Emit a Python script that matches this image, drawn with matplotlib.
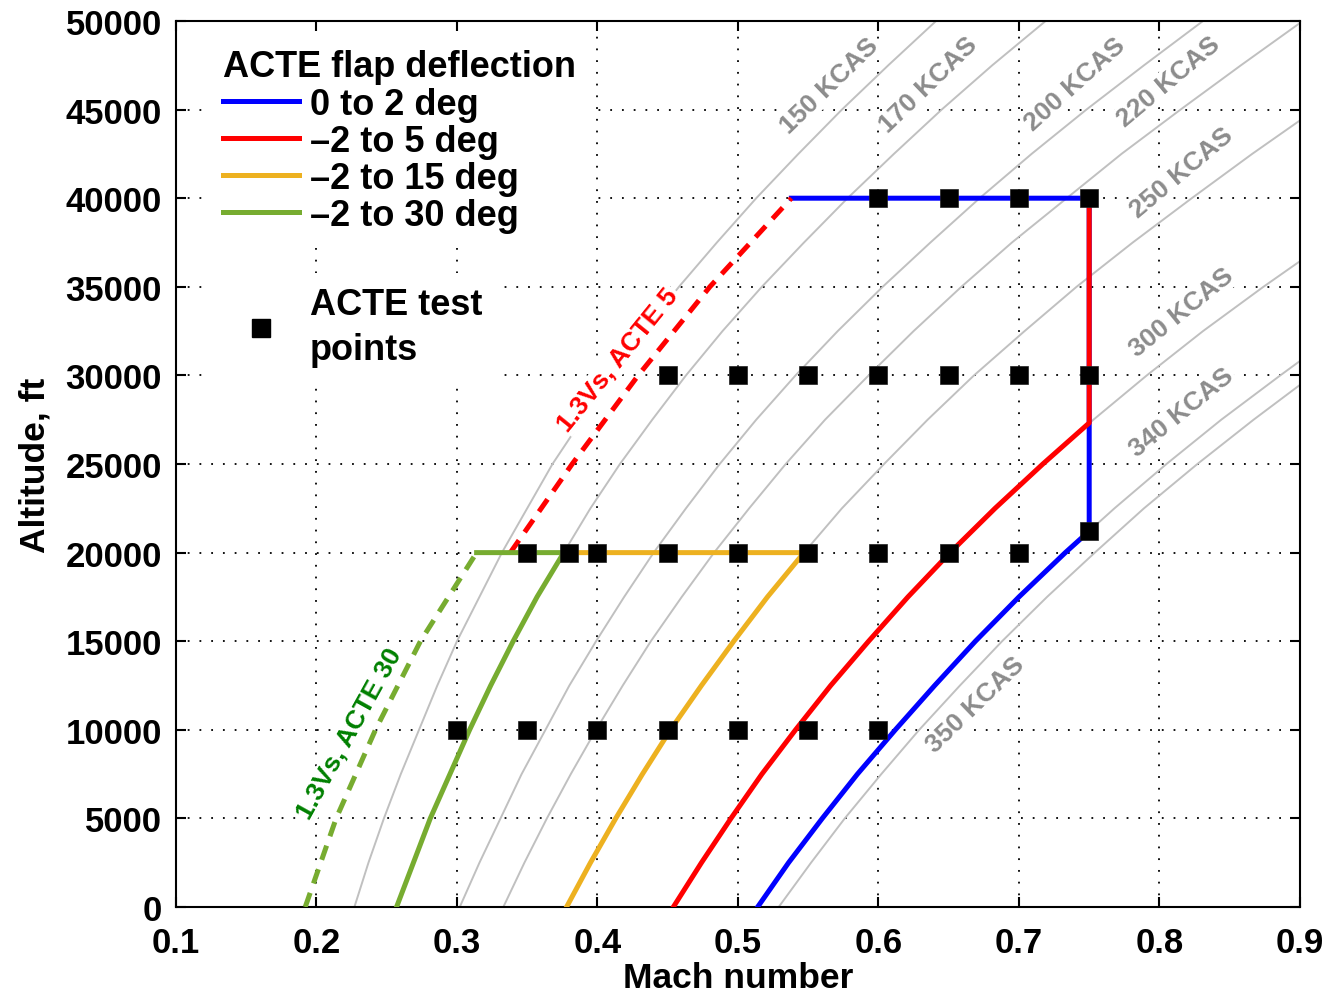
import numpy as np
import matplotlib.pyplot as plt
from matplotlib.lines import Line2D

plt.rcParams['font.family'] = ['Liberation Sans', 'DejaVu Sans']
plt.rcParams['font.weight'] = 'bold'
plt.rcParams['axes.labelweight'] = 'bold'

# altitude grid (ft) for the constant-KCAS lines
alt = [0, 2500, 5000, 7500, 10000, 12500, 15000, 17500, 20000, 22500, 25000,
       27500, 30000, 32500, 35000, 37500, 40000, 42500, 45000, 47500, 50000]

# Mach number along each constant calibrated airspeed line
m150 = [0.227, 0.237, 0.248, 0.260, 0.273, 0.286, 0.300, 0.316, 0.332, 0.350, 0.368,
        0.389, 0.410, 0.433, 0.458, 0.485, 0.513, 0.543, 0.574, 0.607, 0.641]
m170 = [0.257, 0.269, 0.281, 0.295, 0.309, 0.324, 0.340, 0.357, 0.376, 0.395, 0.416,
        0.439, 0.463, 0.489, 0.517, 0.547, 0.578, 0.611, 0.645, 0.681, 0.719]
m200 = [0.302, 0.316, 0.331, 0.346, 0.363, 0.380, 0.399, 0.419, 0.440, 0.463, 0.487,
        0.513, 0.541, 0.571, 0.603, 0.637, 0.672, 0.709, 0.748, 0.789, 0.831]
m220 = [0.333, 0.348, 0.364, 0.381, 0.399, 0.418, 0.438, 0.460, 0.483, 0.508, 0.534,
        0.562, 0.593, 0.625, 0.659, 0.695, 0.734, 0.773, 0.815, 0.858, 0.902]
m250 = [0.378, 0.395, 0.413, 0.432, 0.452, 0.474, 0.497, 0.521, 0.547, 0.574, 0.604,
        0.635, 0.668, 0.704, 0.741, 0.781, 0.823, 0.866, 0.911, 0.958, 1.006]
m300 = [0.454, 0.474, 0.495, 0.517, 0.541, 0.566, 0.593, 0.621, 0.651, 0.683, 0.717,
        0.753, 0.791, 0.831, 0.874, 0.919, 0.965, 1.014, 1.063, 1.115, 1.167]
m340 = [0.514, 0.536, 0.560, 0.585, 0.612, 0.640, 0.669, 0.700, 0.733, 0.768, 0.805,
        0.844, 0.886, 0.929, 0.975, 1.024, 1.074, 1.125, 1.178, 1.232, 1.288]
m350 = [0.529, 0.552, 0.576, 0.602, 0.629, 0.658, 0.688, 0.720, 0.754, 0.789, 0.827,
        0.867, 0.909, 0.953, 1.000, 1.049, 1.100, 1.152, 1.206, 1.261, 1.317]

kcas = [150, 170, 200, 220, 250, 300, 340, 350]
kcas_mach = [m150, m170, m200, m220, m250, m300, m340, m350]

# 1.3 Vs boundaries
vs30_mach = [0.192, 0.214, 0.242, 0.274, 0.314]
vs30_alt = [0, 5000, 10000, 15000, 20000]
vs5_mach = [0.338, 0.382, 0.429, 0.480, 0.538]
vs5_alt = [20000, 25000, 30000, 35000, 40000]

# envelope corners
mmo = 0.75
alt_mmo_340 = 21214
alt_mmo_300 = 27318
alt_top = 40000
alt_low = 20000

# ACTE test points
tp_mach = [0.60, 0.65, 0.70, 0.75,
           0.45, 0.50, 0.55, 0.60, 0.65, 0.70, 0.75,
           0.75,
           0.35, 0.38, 0.40, 0.45, 0.50, 0.55, 0.60, 0.65, 0.70,
           0.30, 0.35, 0.40, 0.45, 0.50, 0.55, 0.60]
tp_alt = [40000] * 4 + [30000] * 7 + [21214] + [20000] * 9 + [10000] * 7

fig = plt.figure(figsize=(13.3, 9.95), dpi=100)
ax = fig.add_axes([0.1323, 0.0874, 0.8451, 0.8905])

blue, red, orange, green = '#0000FF', '#FF0000', '#EDB120', '#77AC30'
n20 = alt.index(20000) + 1
n25 = alt.index(25000) + 1

# constant KCAS lines
for m in kcas_mach:
    ax.plot(m, alt, color='#c0c0c0', lw=1.4, zorder=2)

# 0 to 2 deg envelope
ax.plot(m340[:n20] + [mmo, mmo, vs5_mach[-1]],
        alt[:n20] + [alt_mmo_340, alt_top, alt_top], color=blue, lw=3.6, zorder=4)
# -2 to 5 deg envelope
ax.plot(m300[:n25] + [mmo, mmo], alt[:n25] + [alt_mmo_300, alt_top],
        color=red, lw=3.6, zorder=4)
ax.plot(vs5_mach, vs5_alt, color=red, lw=3.6, ls=(0, (3, 2)), zorder=4)
# -2 to 15 deg envelope
ax.plot(m250[:n20] + [m170[n20 - 1]], alt[:n20] + [alt_low],
        color=orange, lw=3.6, zorder=4)
# -2 to 30 deg envelope
ax.plot(m170[:n20] + [vs30_mach[-1]], alt[:n20] + [alt_low],
        color=green, lw=3.6, zorder=4)
ax.plot(vs30_mach, vs30_alt, color=green, lw=3.6, ls=(0, (3, 2)), zorder=4)

ax.plot(tp_mach, tp_alt, ls='none', marker='s', ms=13.5, color='k',
        mec='#202020', mew=0.5, zorder=5)

# line labels
lab_pos = [(0.5648, 46385, 44), (0.6359, 46440, 44), (0.7399, 46440, 42),
           (0.8068, 46610, 40), (0.8160, 41475, 40), (0.8160, 33575, 39),
           (0.8160, 27930, 39), (0.6694, 11455, 44)]
box = dict(facecolor='white', edgecolor='none', pad=1)
for k, (x, y, r) in zip(kcas, lab_pos):
    ax.text(x, y, '%d KCAS' % k, color='#8c8c8c', fontsize=19, rotation=r,
            rotation_mode='anchor', ha='center', va='center', bbox=box, zorder=3)
ax.text(0.4146, 30924, '1.3Vs, ACTE 5', color=red, fontsize=19, rotation=51,
        rotation_mode='anchor', ha='center', va='center', bbox=box, zorder=3)
ax.text(0.2238, 9818, '1.3Vs, ACTE 30', color='#008000', fontsize=19, rotation=61,
        rotation_mode='anchor', ha='center', va='center', bbox=box, zorder=3)

ax.set_xlim(0.1, 0.9)
ax.set_ylim(0, 50000)
ax.set_xticks(np.arange(0.1, 0.91, 0.1))
ax.set_xticklabels(['0.1', '0.2', '0.3', '0.4', '0.5', '0.6', '0.7', '0.8', '0.9'])
ax.set_yticks(np.arange(0, 50001, 5000))
ax.set_axisbelow(True)
ax.grid(True, color='k', lw=1.3, ls=(0, (1, 5.5)))
ax.tick_params(direction='in', length=7, width=1.5, top=True, right=True,
               labelsize=25)
ax.tick_params(axis='x', pad=14)
ax.tick_params(axis='y', pad=10)
for s in ax.spines.values():
    s.set_linewidth(1.5)

ax.set_xlabel('Mach number', fontsize=25.5, fontweight='bold')
ax.set_ylabel('Altitude, ft', fontsize=25.5, fontweight='bold')
ax.xaxis.set_label_coords(0.5, -0.061)
ax.yaxis.set_label_coords(-0.111, 0.5)

# legends
handles = [Line2D([], [], color=c, lw=3.6) for c in (blue, red, orange, green)]
labels = ['0 to 2 deg', '\u20132 to 5 deg', '\u20132 to 15 deg', '\u20132 to 30 deg']
leg1 = ax.legend(handles, labels, title='ACTE flap deflection', loc='upper left',
                 bbox_to_anchor=(0.0294, 0.9842), borderaxespad=0, fontsize=26,
                 title_fontproperties={'size': 26, 'weight': 'bold'},
                 handlelength=2.1, handletextpad=0.3, labelspacing=0.06,
                 borderpad=0.4, alignment='left', fancybox=False,
                 facecolor='white', edgecolor='none', framealpha=1)
ax.add_artist(leg1)
mark = Line2D([], [], ls='none', marker='s', ms=13.5, color='k')
leg2 = ax.legend([mark], ['ACTE test\npoints'], loc='upper left',
                 bbox_to_anchor=(0.0294, 0.7156), borderaxespad=0, fontsize=26,
                 handlelength=2.1, handletextpad=0.3, borderpad=0.4,
                 fancybox=False, facecolor='white', edgecolor='none', framealpha=1)
leg2.get_texts()[0].set_linespacing(1.35)

fig.savefig('out.png')
